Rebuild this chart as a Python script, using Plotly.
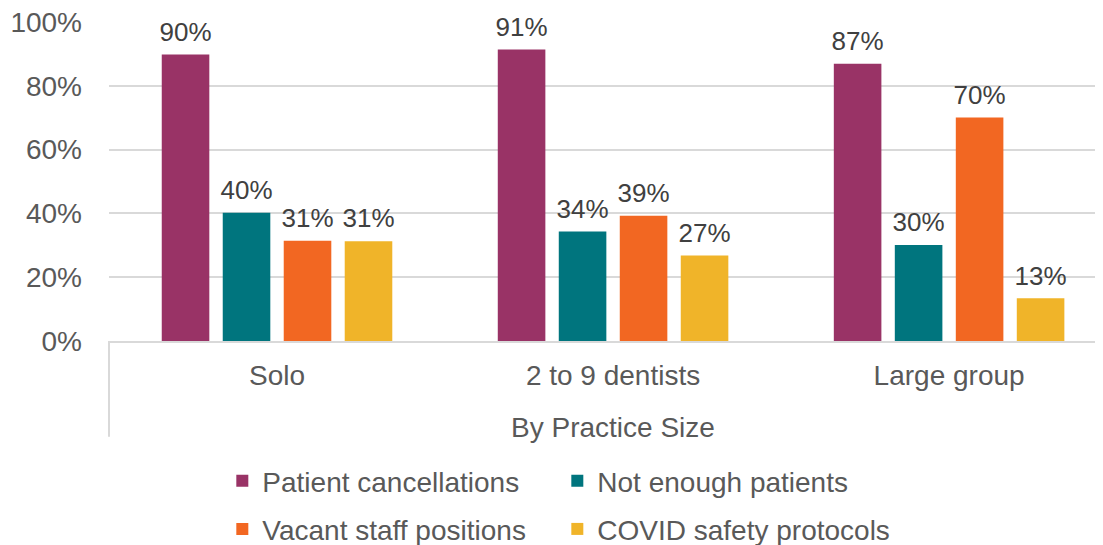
import plotly.graph_objects as go

categories = ["Solo", "2 to 9 dentists", "Large group"]
series_names = ["Patient cancellations", "Not enough patients",
                "Vacant staff positions", "COVID safety protocols"]
patient_cancellations = [0.898, 0.914, 0.869]
not_enough_patients = [0.402, 0.343, 0.301]
vacant_staff_positions = [0.314, 0.393, 0.701]
covid_safety_protocols = [0.313, 0.268, 0.134]
y_ticks = [0, 0.2, 0.4, 0.6, 0.8, 1.0]
y_tick_labels = ["0%", "20%", "40%", "60%", "80%", "100%"]
axis_title = "By Practice Size"

colors = ["#993366", "#00757E", "#F26722", "#F0B429"]
series_values = [patient_cancellations, not_enough_patients,
                 vacant_staff_positions, covid_safety_protocols]
legend_ids = ["legend", "legend", "legend2", "legend2"]

FONT = "Liberation Sans, Arial, sans-serif"
GRAY = "#595959"
FS = 28

fig = go.Figure()
for i, (name, vals, col, lg) in enumerate(zip(series_names, series_values, colors, legend_ids)):
    fig.add_trace(go.Bar(
        name=name, x=categories, y=vals,
        marker=dict(color=col, line=dict(width=0)),
        offsetgroup=f"g{i}", alignmentgroup="a", legend=lg, hoverinfo="skip",
    ))
for i, vals in enumerate(series_values):
    fig.add_trace(go.Scatter(
        x=categories, y=vals, mode="markers+text",
        marker=dict(size=10, opacity=0),
        text=[f"{round(v * 100):.0f}%" for v in vals],
        textposition="top center",
        textfont=dict(family=FONT, size=26, color="#404040"),
        offsetgroup=f"g{i}", alignmentgroup="a", showlegend=False, cliponaxis=False,
        hoverinfo="skip",
    ))

legend_common = dict(orientation="h", x=0.114, xanchor="left", yanchor="middle",
                     entrywidth=290, entrywidthmode="pixels",
                     font=dict(family=FONT, size=FS, color=GRAY),
                     bgcolor="rgba(0,0,0,0)", borderwidth=0, traceorder="normal")

fig.update_layout(
    width=1095, height=537,
    margin=dict(l=101, r=0, t=14, b=204, autoexpand=False),
    paper_bgcolor="white", plot_bgcolor="white",
    barmode="group", bargap=0.274, bargroupgap=0.22,
    scattermode="group", scattergap=0.274,
    font=dict(family=FONT, size=FS, color=GRAY),
    showlegend=True,
    legend=dict(y=-0.439, **legend_common),
    legend2=dict(y=-0.590, **legend_common),
)

fig.update_xaxes(
    type="category", range=[-0.5, 2.458],
    showgrid=False, showline=True, linecolor="#D9D9D9", linewidth=2,
    ticks="", tickfont=dict(family=FONT, size=FS, color=GRAY),
    ticklabelstandoff=8, zeroline=False, automargin=False,
)
fig.update_yaxes(
    range=[0, 1.0001], tickvals=y_ticks, ticktext=y_tick_labels,
    showgrid=True, gridcolor="#D9D9D9", gridwidth=1.5,
    showline=False, zeroline=False, ticks="",
    tickfont=dict(family=FONT, size=FS, color=GRAY),
    ticklabelstandoff=26, automargin=False, ticklabeloverflow="allow",
)

fig.add_annotation(
    text=axis_title, x=1, xref="x", y=-0.272, yref="paper",
    showarrow=False, xanchor="center", yanchor="middle",
    font=dict(family=FONT, size=FS, color=GRAY),
)
fig.add_shape(type="line", xref="paper", yref="paper",
              x0=0, x1=0, y0=0, y1=-0.30,
              line=dict(color="#D9D9D9", width=2))

fig.write_html("out.html")
